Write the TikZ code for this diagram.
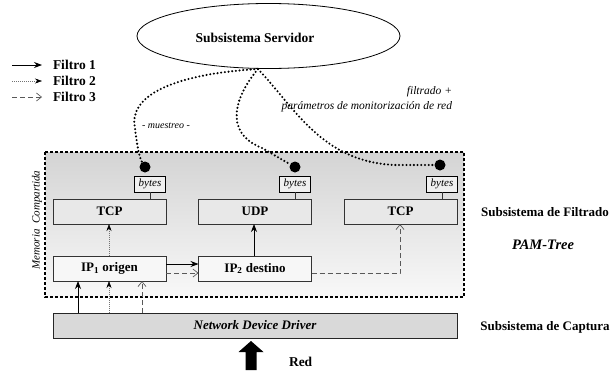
\documentclass[tikz,border=0pt]{standalone}
\usepackage{fontspec}
\setmainfont{Liberation Serif}
\usetikzlibrary{arrows.meta,shapes.geometric}

\begin{document}
\begin{tikzpicture}[x=1pt,y=-1pt,
  every node/.style={inner sep=0pt,outer sep=0pt},
  boldtxt/.style={font=\fontsize{13}{15}\selectfont\bfseries},
  bigtxt/.style={font=\fontsize{13.5}{15}\selectfont\bfseries},
  notetxt/.style={font=\fontsize{10}{12}\selectfont\itshape},
  remarktxt/.style={font=\fontsize{11.5}{13}\selectfont\itshape},
  protobox/.style={draw=black!80,line width=0.8pt,fill=black!9,
    minimum width=113pt,minimum height=25pt,boldtxt},
  ipbox/.style={draw=black!80,line width=0.8pt,fill=black!3,
    minimum width=113pt,minimum height=25pt,boldtxt},
  bytebox/.style={draw=black,line width=0.7pt,fill=black!6,
    minimum width=31pt,minimum height=16pt,
    font=\fontsize{11}{12}\selectfont\itshape},
  knob/.style={circle,fill=black,minimum size=11pt},
  fone/.style={-{Stealth[length=8pt,width=6pt]},line width=0.8pt,black},
  ftwo/.style={-{Stealth[length=7pt,width=5pt,color=black]},
    dash pattern=on 1pt off 1pt,line width=0.5pt,black!55},
  fthree/.style={-{Straight Barb[length=5pt,width=8pt]},
    dash pattern=on 5pt off 3pt,line width=0.7pt,black!65},
  shm/.style={line width=2.3pt,line cap=round,dash pattern=on 0pt off 3.7pt}
]
\useasboundingbox (0,0) rectangle (613,370);

% server subsystem
\node[draw,ellipse,line width=0.8pt,minimum width=263pt,minimum height=65pt]
  (srv) at (268.5,36) {};
\node[bigtxt] (srvtxt) at (255,38) {Subsistema Servidor};
\coordinate (srvout) at (258,69);

% legend
\coordinate (l1a) at (12,65);  \coordinate (l1b) at (42,65);
\coordinate (l2a) at (12,81);  \coordinate (l2b) at (42,81);
\coordinate (l3a) at (12,97);  \coordinate (l3b) at (42,97);
\draw[fone] (l1a) -- (l1b);
\draw[ftwo] (l2a) -- (l2b);
\draw[fthree] (l3a) -- (l3b);
\node[bigtxt,anchor=west] (lg1) at (53,65) {Filtro 1};
\node[bigtxt,anchor=west] (lg2) at (53,81) {Filtro 2};
\node[bigtxt,anchor=west] (lg3) at (53,97) {Filtro 3};

% shared memory area
\draw[line width=1.3pt,dash pattern=on 3pt off 2pt,
  top color={rgb,255:red,212;green,212;blue,212},
  bottom color={rgb,255:red,248;green,248;blue,248}]
  (45,152) rectangle (464,297);
\node[font=\fontsize{11}{12}\selectfont\itshape,rotate=90] (mem) at (37,220)
  {Memoria\hspace{0.5em}Compartida};

% filter tree nodes
\node[protobox] (tcpa) at (109.5,211.5) {TCP};
\node[protobox] (udp)  at (255,211.5) {UDP};
\node[protobox] (tcpb) at (400.5,211.5) {TCP};
\node[ipbox] (ipa) at (109.5,268.5) {IP\textsubscript{1} origen};
\node[ipbox] (ipb) at (255,268.5) {IP\textsubscript{2} destino};

\node[bytebox] (ba) at (150,184) {bytes};
\node[bytebox] (bb) at (295,184) {bytes};
\node[bytebox] (bc) at (442,184) {bytes};
\node[knob] (ka) at (145,167) {};
\node[knob] (kb) at (295,167) {};
\node[knob] (kc) at (440,165) {};

\draw[line width=0.8pt,black!80] (ba.south) -- (ba.south |- tcpa.north);
\draw[line width=0.8pt,black!80] (bb.south) -- (bb.south |- udp.north);
\draw[line width=0.8pt,black!80] (bc.south) -- (bc.south |- tcpb.north);

% capture subsystem
\node[draw=black!85,line width=0.9pt,fill={rgb,255:red,217;green,217;blue,217},
  minimum width=404pt,minimum height=25pt,
  font=\fontsize{13}{15}\selectfont\bfseries\itshape]
  (ndd) at (255,325.5) {Network Device Driver};

% columns and rows used by the filter paths
\coordinate (cA) at (78,0);
\coordinate (cB) at (109,0);
\coordinate (cC) at (142,0);
\coordinate (cU) at (254,0);
\coordinate (cT) at (400,0);
\coordinate (rS) at (0,264);
\coordinate (rD) at (0,273);

% filter paths
\draw[fone] (ndd.north -| cA) -- (ipa.south -| cA);
\draw[ftwo] (ndd.north -| cB) -- (ipa.south -| cB);
\draw[fthree] (ndd.north -| cC) -- (ipa.south -| cC);
\draw[ftwo] (ipa.north -| cB) -- (tcpa.south -| cB);
\draw[fone] (ipa.east |- rS) -- (ipb.west |- rS);
\draw[fthree] (ipa.east |- rD) -- (ipb.west |- rD);
\draw[fone] (ipb.north -| cU) -- (udp.south -| cU);
\draw[fthree] (ipb.east |- rD) -| (tcpb.south -| cT);

% links from the server to the shared counters
\draw[shm] (srvout) .. controls (175,74) and (128,95) .. (135,128)
  .. controls (137,145) and (139,157) .. (ka);
\draw[shm] (srvout) .. controls (236,95) and (222,132) .. (262,148)
  .. controls (276,156) and (286,162) .. (kb);
\draw[shm] (srvout) .. controls (295,108) and (322,162) .. (395,165) -- (kc);

\node[notetxt] (mue) at (166,126) {- muestreo -};
\node[remarktxt,anchor=east] (fil1) at (452,92) {filtrado +};
\node[remarktxt,anchor=east] (fil2) at (452,107)
  {parámetros de monitorización de red};

% network input
\fill[black] (245.5,370) -- (245.5,352) -- (238.5,352) -- (251,341)
  -- (263.5,352) -- (256.5,352) -- (256.5,370) -- cycle;
\node[bigtxt,anchor=west] (red) at (289,362) {Red};

% subsystem labels
\node[boldtxt] (sfil) at (545,212) {Subsistema de Filtrado};
\node[font=\fontsize{14.5}{16}\selectfont\bfseries\itshape] (pam) at (543,245) {PAM-Tree};
\node[boldtxt] (scap) at (545,327) {Subsistema de Captura};
\end{tikzpicture}
\end{document}
